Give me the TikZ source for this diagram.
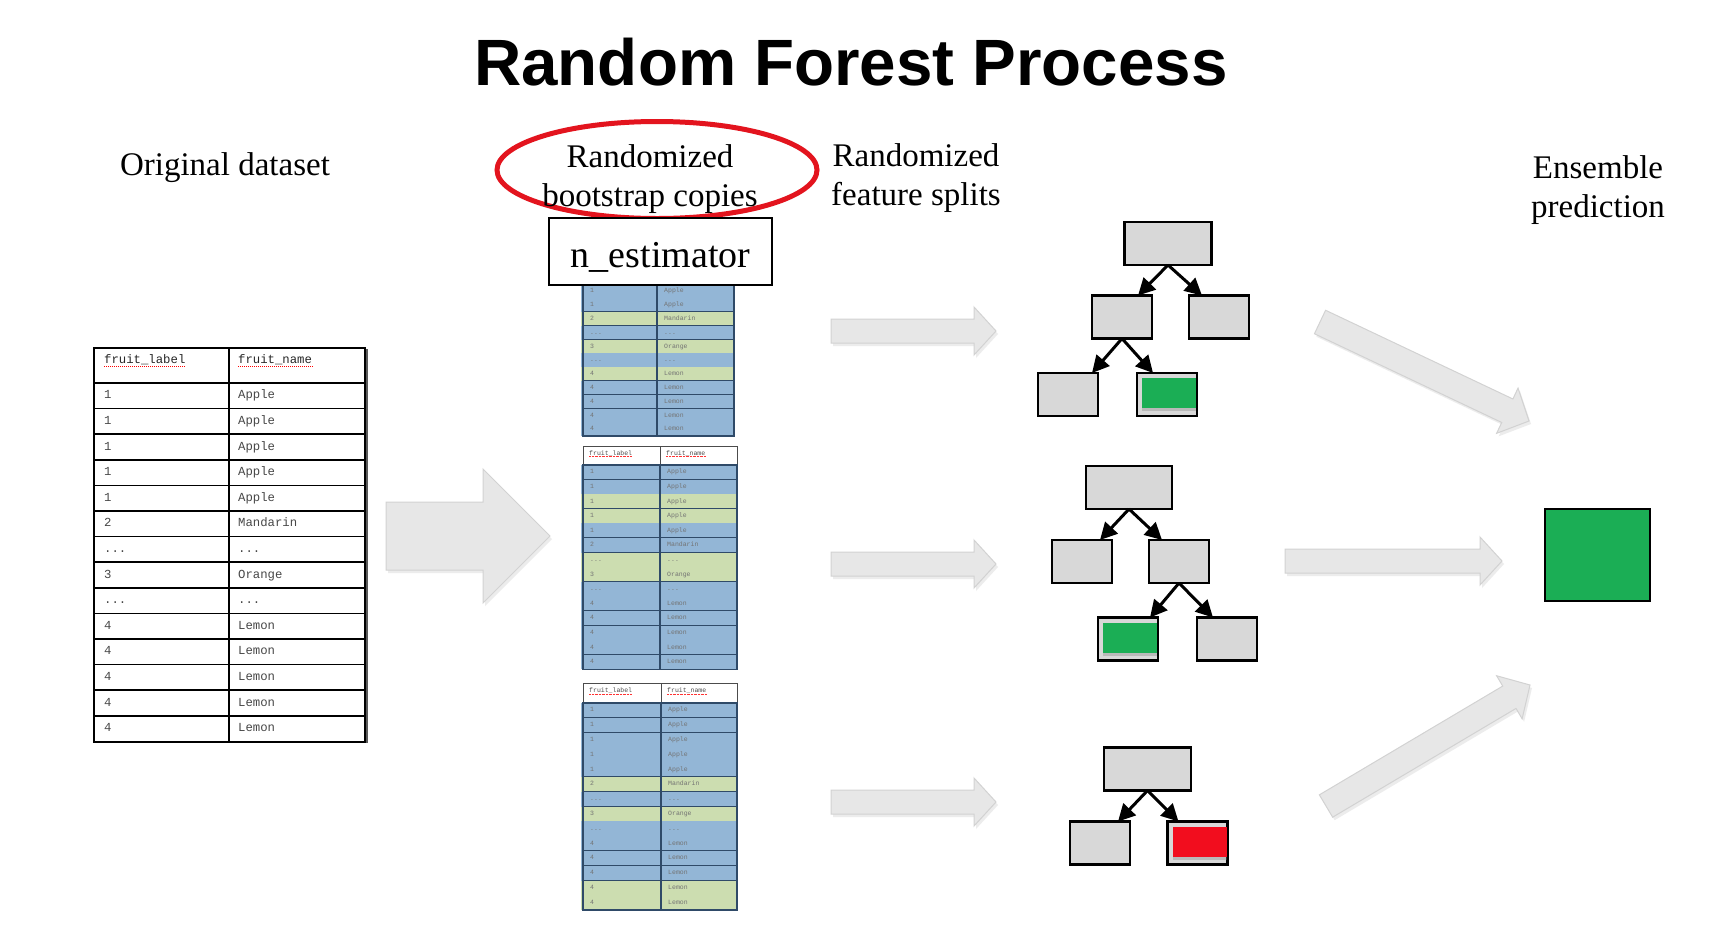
\documentclass[tikz,border=0pt]{standalone}
\usepackage{fontspec}
\setmainfont{Liberation Serif}
\setsansfont{Liberation Sans}
\setmonofont{Liberation Mono}
\usetikzlibrary{calc,arrows.meta,shadows,shapes.geometric}

\definecolor{boxgray}{HTML}{D8D8D8}
\definecolor{leafgreen}{HTML}{1BAE55}
\definecolor{leafred}{HTML}{F20D1E}
\definecolor{ringred}{HTML}{E3141E}
\definecolor{rowblue}{HTML}{93B6D6}
\definecolor{rowgreen}{HTML}{CCDDB0}
\definecolor{rowline}{HTML}{2F4A68}
\definecolor{arrowfill}{HTML}{E7E7E7}
\definecolor{arrowedge}{HTML}{D2D2D2}

\newcommand{\tdots}{...}
\newcommand{\rowdata}{1/Apple,1/Apple,1/Apple,1/Apple,1/Apple,2/Mandarin,\tdots/\tdots,3/Orange,\tdots/\tdots,4/Lemon,4/Lemon,4/Lemon,4/Lemon,4/Lemon}

% fat block arrow from tail coordinate #1 to tip coordinate #2
% #3 shaft half width, #4 head half width, #5 head length
\newcommand{\fatarrow}[5]{%
  \path ($(#2)!#5!(#1)$) coordinate (fab);
  \path[fatarrowstyle] ($(#1)!#3!90:(#2)$) -- ($(fab)!#3!90:(#2)$) -- ($(fab)!#4!90:(#2)$) -- (#2)
     -- ($(fab)!#4!-90:(#2)$) -- ($(fab)!#3!-90:(#2)$) -- ($(#1)!#3!-90:(#2)$) -- cycle;
}

% bootstrap copy table
% #1 prefix, #2 top, #3 header height, #4 row height, #5 right x, #6 divider x, #7 colours,
% #8 first row that is drawn (rows above it and the header are hidden)
\newcommand{\copytable}[8]{%
  \ifnum#8=1
  \draw[chdr, fill=white] (583,#2) rectangle (#5,{#2+#3});
  \draw[chdr] (#6,#2) -- (#6,{#2+#3});
  \node[chtext, anchor=west] (#1h1) at (589,{#2+#3*0.42}) {fruit\_label};
  \node[chtext, anchor=west] (#1h2) at ({#6+6},{#2+#3*0.42}) {fruit\_name};
  \draw[spellsmall] (#1h1.south west) -- (#1h1.south east);
  \draw[spellsmall] (#1h2.south west) -- (#1h2.south east);
  \fi
  \foreach \rc [count=\ri] in {#7} {
    \ifnum\ri<#8\else
    \fill[fill=\rc] (581,{#2+#3+(\ri-1)*#4}) rectangle ({#5+1},{#2+#3+\ri*#4});
    \draw[crow] (583,{#2+#3+\ri*#4}) -- (#5,{#2+#3+\ri*#4});
    \fi
  }
  \draw[cframe] (583,{#2+#3+(#8-1)*#4}) rectangle (#5,{#2+#3+14*#4});
  \draw[cframe] (#6,{#2+#3+(#8-1)*#4}) -- (#6,{#2+#3+14*#4});
  \foreach \ra/\rb [count=\ri] in \rowdata {
    \ifnum\ri<#8\else
    \node[ctext, anchor=west] (#1a\ri) at (590,{#2+#3+(\ri-0.5)*#4}) {\ra};
    \node[ctext, anchor=west] (#1b\ri) at ({#6+7},{#2+#3+(\ri-0.5)*#4}) {\rb};
    \fi
  }
}

\tikzset{
  lbl/.style={font=\fontsize{33}{39}\selectfont, align=center, inner sep=0pt},
  otext/.style={font=\ttfamily\fontsize{12.3}{14}\selectfont, text=black!72, inner sep=0pt, text height=8pt, text depth=2pt},
  ohdr/.style={otext, text=black!85},
  oline/.style={line width=1.6pt, black},
  spell/.style={draw=red, line width=1pt, dash pattern=on 1.2pt off 0.8pt},
  spellsmall/.style={draw=red!80, line width=0.6pt, dash pattern=on 0.8pt off 0.6pt},
  chdr/.style={draw=black!70, line width=1pt},
  chtext/.style={font=\ttfamily\fontsize{6.5}{7}\selectfont, text=black!70, inner sep=0pt, text height=4pt, text depth=1.2pt},
  ctext/.style={font=\ttfamily\fontsize{6.5}{7}\selectfont, text=black!55, inner sep=0pt, text height=4pt, text depth=1pt},
  crow/.style={draw=rowline, line width=1.3pt},
  cframe/.style={draw=rowline, line width=1.5pt},
  treebox/.style={draw=black, line width=2.5pt, fill=boxgray, inner sep=0pt, outer sep=0pt, minimum width=60pt, minimum height=43pt},
  rootbox/.style={treebox, minimum width=87pt},
  treearrow/.style={line width=3pt, -{Triangle[length=17pt,width=17pt]}},
  fatarrowstyle/.style={fill=arrowfill, draw=arrowedge, line width=1pt, line join=miter,
     drop shadow={shadow xshift=2pt, shadow yshift=-3pt, opacity=0.15}},
  leafshade/.style={drop shadow={shadow xshift=0pt, shadow yshift=-3pt, opacity=0.35}},
}

\begin{document}
\begin{tikzpicture}[x=1pt, y=-1pt]
\fill[white] (0,0) rectangle (1732,930);
\useasboundingbox (0,0) rectangle (1732,930);

% ---------- title and labels ----------
\node[font=\sffamily\bfseries\fontsize{65.5}{78}\selectfont, inner sep=0pt] (title) at (851,62) {Random Forest Process};
\node[lbl] (orig) at (225,168) {Original dataset};
\node[ellipse, draw=ringred, line width=5pt, minimum width=320pt, minimum height=97pt, inner sep=0pt] (ring) at (657,170) {};
\node[lbl] (boot) at (650,179) {Randomized\\bootstrap copies};
\node[lbl] (feat) at (916,178) {Randomized\\feature splits};
\node[lbl] (enslbl) at (1598,190) {Ensemble\\prediction};

% ---------- original dataset table ----------
\draw[line width=3pt, black!65] (366.5,349) -- (366.5,743);
\draw[oline] (94,348) rectangle (365,742);
\draw[oline] (94,383) -- (365,383);
\foreach \ri in {1,...,13} \draw[oline] (94,{383+\ri*25.6}) -- (365,{383+\ri*25.6});
\draw[oline] (229,348) -- (229,742);
\node[ohdr, anchor=west] (oh1) at (104,360) {fruit\_label};
\node[ohdr, anchor=west] (oh2) at (238,360) {fruit\_name};
\draw[spell] ($(oh1.south west)+(0,1.5)$) -- ($(oh1.south east)+(0,1.5)$);
\draw[spell] ($(oh2.south west)+(0,1.5)$) -- ($(oh2.south east)+(0,1.5)$);
\foreach \ra/\rb [count=\ri] in \rowdata {
  \node[otext, anchor=west] (oa\ri) at (104,{383+(\ri-0.5)*25.6}) {\ra};
  \node[otext, anchor=west] (ob\ri) at (238,{383+(\ri-0.5)*25.6}) {\rb};
}

% ---------- bootstrap copies ----------
\copytable{ta}{223}{20}{13.8}{734}{657}{rowblue,rowblue,rowblue,rowblue,rowblue,rowgreen,rowblue,rowgreen,rowblue,rowgreen,rowblue,rowblue,rowblue,rowblue}{4}
\copytable{tb}{446}{19}{14.6}{737}{660}{rowblue,rowblue,rowgreen,rowgreen,rowblue,rowblue,rowgreen,rowgreen,rowblue,rowblue,rowblue,rowblue,rowblue,rowblue}{1}
\copytable{tc}{683}{20}{14.8}{737}{661}{rowblue,rowblue,rowblue,rowblue,rowblue,rowgreen,rowblue,rowgreen,rowblue,rowblue,rowblue,rowblue,rowgreen,rowgreen}{1}

\node[draw=black, line width=1.5pt, fill=white, minimum width=223pt, minimum height=67pt, inner sep=0pt,
      text height=31pt, text depth=0pt, font=\fontsize{38}{40}\selectfont] (nest) at (660.5,251.5) {n\_estimator};

% ---------- block arrows ----------
\coordinate (bigt) at (386,536);  \coordinate (bigh) at (550,536);
\fatarrow{bigt}{bigh}{34pt}{67pt}{67pt}
\coordinate (m1t) at (831,331);   \coordinate (m1h) at (996,331);
\coordinate (m2t) at (831,564);   \coordinate (m2h) at (996,564);
\coordinate (m3t) at (831,802);   \coordinate (m3h) at (996,802);
\fatarrow{m1t}{m1h}{12pt}{24pt}{22pt}
\fatarrow{m2t}{m2h}{12pt}{24pt}{22pt}
\fatarrow{m3t}{m3h}{12pt}{24pt}{22pt}
\coordinate (r1t) at (1320,322);  \coordinate (r1h) at (1529,421);
\coordinate (r2t) at (1285,561);  \coordinate (r2h) at (1502,561);
\coordinate (r3t) at (1326,806);  \coordinate (r3h) at (1530,685);
\fatarrow{r1t}{r1h}{13pt}{25pt}{24pt}
\fatarrow{r2t}{r2h}{12pt}{24pt}{22pt}
\fatarrow{r3t}{r3h}{13pt}{25pt}{24pt}

% ---------- tree 1 ----------
\node[rootbox] (t1r) at (1168,243.5) {};
\node[treebox] (t1a) at (1122,317) {};
\node[treebox] (t1b) at (1219,317) {};
\node[treebox] (t1c) at (1068,394.5) {};
\node[treebox] (t1d) at (1167,394.5) {};
\fill[leafgreen, leafshade] ($(t1d.north west)+(5,5)$) rectangle ($(t1d.south east)+(-1,-8)$);
\draw[treearrow] (t1r.south) -- ($(t1a.north)+(16,0)$);
\draw[treearrow] (t1r.south) -- ($(t1b.north)+(-17,0)$);
\draw[treearrow] (t1a.south) -- ($(t1c.north)+(24,0)$);
\draw[treearrow] (t1a.south) -- ($(t1d.north)+(-14,0)$);

% ---------- tree 2 ----------
\node[rootbox, minimum width=86pt] (t2r) at (1129,487.5) {};
\node[treebox] (t2a) at (1082,561.5) {};
\node[treebox] (t2b) at (1179,561.5) {};
\node[treebox] (t2c) at (1128,639) {};
\node[treebox] (t2d) at (1227,639) {};
\fill[leafgreen, leafshade] ($(t2c.north west)+(5,5)$) rectangle ($(t2c.south east)+(-1,-8)$);
\draw[treearrow] (t2r.south) -- ($(t2a.north)+(18,0)$);
\draw[treearrow] (t2r.south) -- ($(t2b.north)+(-17,0)$);
\draw[treearrow] (t2b.south) -- ($(t2c.north)+(22,0)$);
\draw[treearrow] (t2b.south) -- ($(t2d.north)+(-14,0)$);

% ---------- tree 3 ----------
\node[rootbox] (t3r) at (1147.5,769) {};
\node[treebox] (t3a) at (1100,843) {};
\node[treebox] (t3b) at (1197.5,843) {};
\fill[leafred, leafshade] ($(t3b.north west)+(5,5)$) rectangle ($(t3b.south east)+(-1,-8)$);
\draw[treearrow] (t3r.south) -- ($(t3a.north)+(18,0)$);
\draw[treearrow] (t3r.south) -- ($(t3b.north)+(-19,0)$);

% ---------- ensemble result ----------
\node[draw=black, line width=2.5pt, fill=leafgreen, inner sep=0pt, minimum width=105pt, minimum height=92pt] (ens) at (1597.5,555) {};
\end{tikzpicture}
\end{document}
